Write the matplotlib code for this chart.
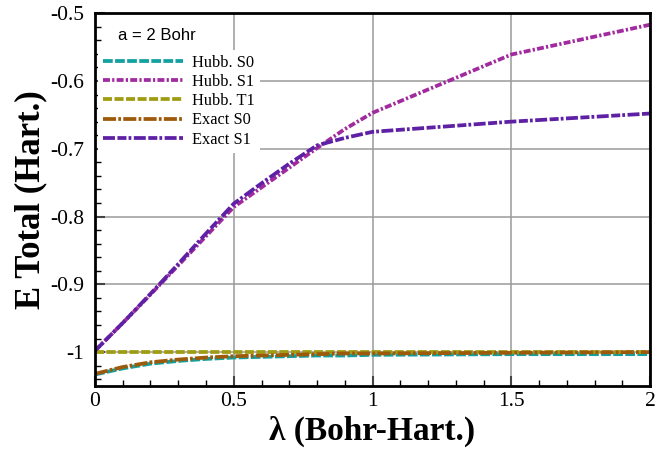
import numpy as np
import matplotlib
matplotlib.use('Agg')
import matplotlib.pyplot as plt
from matplotlib.ticker import MultipleLocator, FuncFormatter

plt.rcParams['font.family'] = 'Liberation Serif'
plt.rcParams['axes.unicode_minus'] = False
plt.rcParams['lines.scale_dashes'] = False

# coupling strength and total energies (Hartree), a = 2 Bohr
lam = [0.0, 0.1, 0.2, 0.3, 0.4, 0.5, 0.6, 0.7, 0.8, 0.9, 1.0, 1.5, 2.0]
hubb_s0 = [-1.033, -1.024, -1.017, -1.013, -1.010, -1.008, -1.007, -1.006,
           -1.005, -1.005, -1.004, -1.003, -1.003]
hubb_s1 = [-0.998, -0.957, -0.915, -0.872, -0.829, -0.786, -0.757, -0.728,
           -0.699, -0.671, -0.647, -0.561, -0.517]
hubb_t1 = [-1.0] * len(lam)
exact_s0 = [-1.032, -1.022, -1.015, -1.011, -1.008, -1.006, -1.005, -1.004,
            -1.003, -1.002, -1.002, -1.001, -1.000]
exact_s1 = [-0.998, -0.957, -0.914, -0.870, -0.825, -0.781, -0.751, -0.722,
            -0.695, -0.684, -0.675, -0.660, -0.648]

series = [
    ('Hubb. S0', hubb_s0, '#12a0a0', (0, (7, 1.7))),
    ('Hubb. S1', hubb_s1, '#a02a9e', (0, (5, 1.6, 1.6, 1.6))),
    ('Hubb. T1', hubb_t1, '#a09c12', (0, (6.5, 1.8))),
    ('Exact S0', exact_s0, '#9c5a0a', (0, (9.4, 1.6, 2, 1.6))),
    ('Exact S1', exact_s1, '#5e20a4', (0, (8.6, 1.8, 6.5, 1.5, 2, 1.8))),
]

fig = plt.figure(figsize=(6.68, 4.55), dpi=100)
ax = fig.add_axes([0.1422, 0.1516, 0.8309, 0.8194])

for name, vals, col, ls in series:
    ax.plot(lam, vals, color=col, linestyle=ls, linewidth=2.7, label=name)

ax.set_xlim(0, 2)
ax.set_ylim(-1.05, -0.5)
ax.xaxis.set_major_locator(MultipleLocator(0.5))
ax.xaxis.set_minor_locator(MultipleLocator(0.1))
ax.yaxis.set_major_locator(MultipleLocator(0.1))
ax.yaxis.set_minor_locator(MultipleLocator(0.02))
fmt = FuncFormatter(lambda v, p: '%g' % round(v, 3))
ax.xaxis.set_major_formatter(fmt)
ax.yaxis.set_major_formatter(fmt)
ax.tick_params(which='major', direction='in', length=7, width=1.5,
               top=False, right=False, color='#444444')
ax.tick_params(which='minor', direction='in', length=4, width=1,
               top=False, right=False)
ax.tick_params(axis='x', which='major', labelsize=15.5, pad=4)
ax.tick_params(axis='y', which='major', labelsize=15.5, pad=8)
ax.grid(True, which='major', color='#9a9a9a', linewidth=1.1)
ax.set_axisbelow(True)
for s in ax.spines.values():
    s.set_linewidth(2)

ax.set_xlabel('λ (Bohr-Hart.)', fontsize=24, fontweight='bold', labelpad=4)
ax.set_ylabel('E Total (Hart.)', fontsize=25, fontweight='bold', labelpad=2)

leg = ax.legend(loc='upper left', bbox_to_anchor=(0.005, 0.902), fontsize=11.8,
                handlelength=4.9, handletextpad=0.55, labelspacing=0.2,
                borderpad=0.3, borderaxespad=0.0, frameon=True, fancybox=False)
leg.get_frame().set_edgecolor('none')
leg.get_frame().set_facecolor('white')
leg.get_frame().set_alpha(1)

ax.text(0.042, 0.94, 'a = 2 Bohr', transform=ax.transAxes, fontsize=12,
        family='Liberation Sans', va='center', ha='left')

fig.savefig('out.png', dpi=100)
